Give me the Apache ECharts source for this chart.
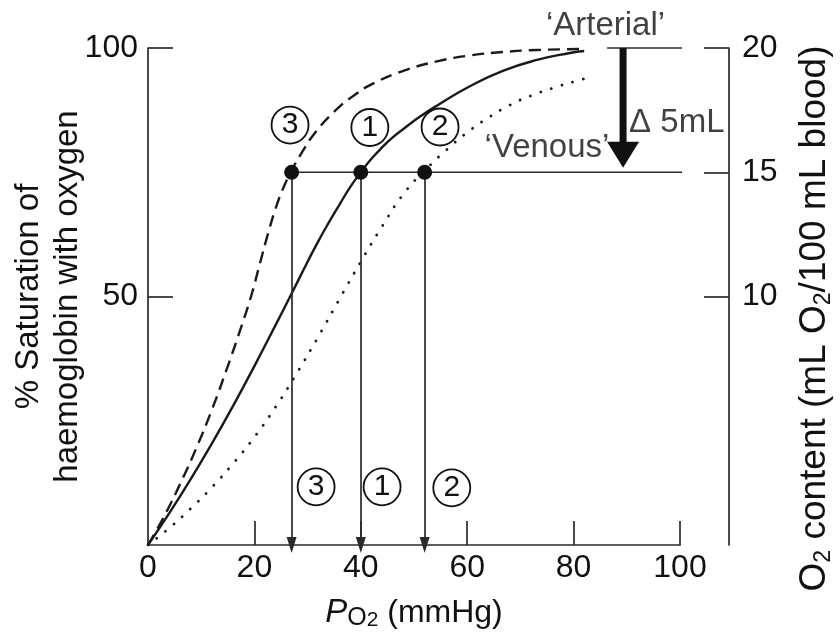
<!DOCTYPE html>
<html><head><meta charset="utf-8">
<script src="https://cdn.jsdelivr.net/npm/echarts@6/dist/echarts.min.js"></script>
<style>html,body{margin:0;padding:0;background:#fff}#c{width:840px;height:632px}</style>
</head><body><div id="c"></div>
<script>
// ---- data ----
const xTickValues = [0, 20, 40, 60, 80, 100];
const xTickMarks = [20, 40, 60, 80, 100];
const leftTickValues = [50, 100];
const rightTickValues = [10, 15, 20];

// normal curve (1), left-shifted curve (3, dashed), right-shifted curve (2, dotted)
const curveNormal = [[0,0],[4,6.4],[8,13.2],[12,20.4],[16,28],[20,36],[24,44.3],[27,50.6],[30,57],[32,61.1],[34,64.9],[36,68.5],[38,72],[40,75],[42,77.7],[44,80],[46,82],[48,83.7],[51,86.1],[54.3,88.4],[60.5,92.3],[66.7,95.4],[73.1,97.6],[79.3,99],[82,99.4]];
const curveLeft = [[0,0],[3,5.7],[6,12.2],[9,19.3],[12,27.2],[15,36],[17.5,43.8],[19.5,50.5],[21,56.5],[22.6,62.8],[24.2,68.4],[25.7,72.5],[27.2,75.8],[29,79.1],[31.3,82.8],[35.1,87.3],[38.9,90.6],[42.6,93],[48,95.4],[54.3,97.3],[60.5,98.5],[66.8,99.2],[73.1,99.6],[82,99.8]];
const curveRight = [[0,0],[4,3.4],[8,7.3],[12,11.6],[16,16.4],[20,21.7],[24,27.8],[28,34.6],[32,41.9],[36,49.5],[40,57],[44,64.1],[48,70.6],[52,75.3],[56,79.4],[60,83],[64,86],[68,88.5],[72,90.4],[76,91.9],[80,93.2],[83,94.1]];

const venousSat = 75;
const arterialSat = 100;
const venousPoints = [27, 40, 52];           // PO2 of curves 3, 1, 2 at venous saturation
const contentAxisAt = 109.2;                 // PO2 position of the O2 content axis
const arterialLineStart = 86.3;
const deltaArrowX = 89.3;
const deltaArrowHead = 78.5;                 // centre of the big arrow head

const circleLabels = [
  {name:'3', value:[26.7, 84.5]}, {name:'1', value:[41.7, 84]}, {name:'2', value:[54.9, 84.1]},
  {name:'3', value:[31.6, 11.7]}, {name:'1', value:[44, 11.7]}, {name:'2', value:[57.1, 11.5]}
];
const textLabels = [
  {name:'\u2018Arterial\u2019', value:[86, 104.4]},
  {name:'\u2018Venous\u2019', value:[75, 79.9]},
  {name:'\u0394 5mL', value:[99.4, 85]}
];

// ---- chart ----
const W = 840, H = 632;
const gridLeft = 148, gridRight = 160, gridTop = 48, gridBottom = 87;
const gridW = W - gridLeft - gridRight;
const ink = '#111';
const font = '"Liberation Sans", Arial, Helvetica, sans-serif';

const chart = echarts.init(document.getElementById('c'), null, {renderer:'canvas'});
const axisLineStyle = {color:'#2a2a2a', width:1.7};

chart.setOption({
  animation:false,
  backgroundColor:'#fff',
  textStyle:{fontFamily:font, color:ink},
  grid:{left:gridLeft, right:gridRight, top:gridTop, bottom:gridBottom, outerBoundsMode:'none', containLabel:false},
  xAxis:{
    type:'value', min:0, max:100, interval:20,
    axisLine:{show:true, lineStyle:axisLineStyle},
    axisTick:{show:true, inside:true, length:24, lineStyle:axisLineStyle, customValues:xTickMarks},
    axisLabel:{fontSize:32, color:ink, margin:7, fontFamily:font, customValues:xTickValues},
    splitLine:{show:false},
    name:'{it|P}{o|O}{sub|2} (mmHg)', nameLocation:'middle', nameGap:50, nameMoveOverlap:false,
    nameTextStyle:{fontSize:32, color:ink, fontFamily:font, lineHeight:36,
      rich:{it:{fontSize:33, fontStyle:'italic', fontFamily:font, color:ink, lineHeight:36},
            o:{fontSize:25, fontFamily:font, color:ink, lineHeight:28, verticalAlign:'bottom'},
            sub:{fontSize:21, fontFamily:font, color:ink, lineHeight:12, verticalAlign:'bottom'}}}
  },
  yAxis:[{
    type:'value', min:0, max:100, interval:50, position:'left',
    axisLine:{show:true, lineStyle:axisLineStyle},
    axisTick:{show:true, inside:true, length:25, lineStyle:axisLineStyle, customValues:leftTickValues},
    axisLabel:{fontSize:32, color:ink, margin:10, fontFamily:font, customValues:leftTickValues},
    splitLine:{show:false},
    name:'% Saturation of\nhaemoglobin with oxygen', nameLocation:'middle', nameGap:61, nameRotate:90, nameMoveOverlap:false,
    nameTextStyle:{fontSize:33, color:ink, fontFamily:font, lineHeight:39, align:'center'}
  },{
    type:'value', min:0, max:20, interval:5, position:'right',
    offset:(contentAxisAt - 100) / 100 * gridW,
    axisLine:{show:true, lineStyle:axisLineStyle},
    axisTick:{show:true, inside:true, length:25, lineStyle:axisLineStyle, customValues:rightTickValues},
    axisLabel:{fontSize:32, color:ink, margin:13, fontFamily:font, customValues:rightTickValues},
    splitLine:{show:false},
    name:'O{sub|2} content (mL O{sub|2}/100 mL blood)', nameLocation:'middle', nameGap:66, nameRotate:90, nameMoveOverlap:false,
    nameTextStyle:{fontSize:37, color:ink, fontFamily:font, lineHeight:40, padding:[0,44,0,0],
      rich:{sub:{fontSize:23, fontFamily:font, color:ink, lineHeight:14, verticalAlign:'bottom'}}}
  }],
  series:[
    {type:'line', data:curveNormal, smooth:0.5, showSymbol:false, symbol:'none', z:3,
      lineStyle:{color:'#1a1a1a', width:2.4}},
    {type:'line', data:curveLeft, smooth:0.5, showSymbol:false, symbol:'none', z:3,
      lineStyle:{color:'#1a1a1a', width:2.4, type:[12,7]}},
    {type:'line', data:curveRight, smooth:0.5, showSymbol:false, symbol:'none', z:3,
      lineStyle:{color:'#1a1a1a', width:2.8, type:[0.1,11], cap:'round'}},
    {type:'line', data:[[venousPoints[0], venousSat],[contentAxisAt, venousSat]], clip:false, showSymbol:false, symbol:'none', z:2,
      lineStyle:{color:'#2a2a2a', width:1.7}},
    {type:'line', data:[[arterialLineStart, arterialSat],[contentAxisAt, arterialSat]], clip:false, showSymbol:false, symbol:'none', z:2,
      lineStyle:{color:'#2a2a2a', width:1.7}},
    {type:'scatter', data:venousPoints.map(x => [x, venousSat]), symbol:'circle', symbolSize:15, z:6,
      itemStyle:{color:'#111', opacity:1},
      markLine:{silent:true, symbol:['none','triangle'], symbolSize:[10,16], animation:false,
        label:{show:false}, lineStyle:{color:'#2a2a2a', width:1.7, type:'solid', opacity:1},
        itemStyle:{color:'#2a2a2a', opacity:1},
        data:venousPoints.map(x => [{coord:[x, venousSat]},{coord:[x, 0]}])}},
    {type:'line', data:[[deltaArrowX, arterialSat],[deltaArrowX, deltaArrowHead]], showSymbol:false, symbol:'none', z:5,
      lineStyle:{color:'#111', width:7, cap:'butt'}},
    {type:'scatter', data:[[deltaArrowX, deltaArrowHead]], symbol:'triangle', symbolRotate:180, symbolSize:[32,26], z:5,
      itemStyle:{color:'#111', opacity:1}},
    {type:'scatter', data:circleLabels, clip:false, symbol:'circle', symbolSize:37, z:7,
      itemStyle:{color:'#fff', borderColor:'#111', borderWidth:1.8, opacity:1},
      label:{show:true, position:'inside', formatter:p => p.name, fontSize:30, color:ink, fontFamily:font}},
    {type:'scatter', data:textLabels, clip:false, symbolSize:0, z:8,
      label:{show:true, position:'inside', formatter:p => p.name, fontSize:33, color:ink, fontFamily:font}}
  ]
});
</script>
</body></html>
